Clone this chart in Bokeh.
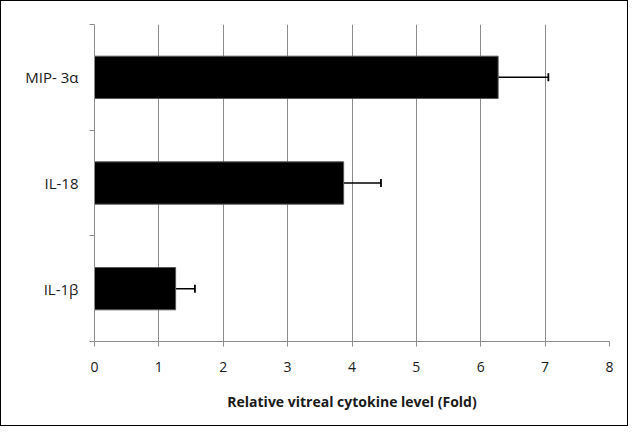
from bokeh.plotting import figure
from bokeh.models import Range1d, FixedTicker, Whisker, TeeHead, ColumnDataSource
from bokeh.embed import file_html
from bokeh.resources import INLINE

categories = ["IL-1β", "IL-18", "MIP- 3α"]
values = [1.26, 3.87, 6.27]
errors = [0.30, 0.58, 0.78]
x_ticks = [0, 1, 2, 3, 4, 5, 6, 7, 8]

pos = [i + 0.5 for i in range(len(categories))]
upper = [v + e for v, e in zip(values, errors)]
src = ColumnDataSource(dict(y=pos, v=values, up=upper))

FONT = "Open Sans"
GRAY = "#8c8c8c"
TXT = "#1a1a1a"

p = figure(frame_width=515, frame_height=317,
           min_border_left=93, min_border_right=18, min_border_top=23, min_border_bottom=84,
           x_range=Range1d(0, 8), y_range=Range1d(0, len(categories)),
           output_backend="svg", toolbar_location=None, tools="")
p.styles = {"border": "1.5px solid #000"}
p.outline_line_color = None
p.background_fill_color = "white"
p.border_fill_color = "white"

p.hbar(y="y", right="v", left=0, height=0.4, source=src,
       fill_color="black", line_color="#555555", line_width=1)

w = Whisker(base="y", lower="v", upper="up", dimension="width", source=src,
            line_color="black", line_width=1.5,
            upper_head=TeeHead(size=8, line_color="black", line_width=1.8),
            lower_head=None)
p.add_layout(w)

# x axis
p.xaxis.ticker = FixedTicker(ticks=x_ticks)
p.xaxis.axis_line_color = GRAY
p.xaxis.major_tick_line_color = GRAY
p.xaxis.major_tick_out = 5
p.xaxis.major_tick_in = 0
p.xaxis.minor_tick_line_color = None
p.xaxis.major_label_text_font = FONT
p.xaxis.major_label_text_font_size = "14px"
p.xaxis.major_label_text_color = TXT
p.xaxis.major_label_standoff = 15
p.xaxis.axis_label = "Relative vitreal cytokine level (Fold)"
p.xaxis.axis_label_text_font = FONT
p.xaxis.axis_label_text_font_style = "bold"
p.xaxis.axis_label_text_font_size = "14px"
p.xaxis.axis_label_text_color = TXT
p.xaxis.axis_label_standoff = 17

# y axis: labels at category centres, tick marks at boundaries
p.yaxis.ticker = FixedTicker(ticks=pos, minor_ticks=list(range(len(categories) + 1)))
p.yaxis.major_label_overrides = {pv: c for pv, c in zip(pos, categories)}
p.yaxis.axis_line_color = GRAY
p.yaxis.major_tick_line_color = None
p.yaxis.minor_tick_line_color = GRAY
p.yaxis.minor_tick_out = 5
p.yaxis.minor_tick_in = 0
p.yaxis.major_label_text_font = FONT
p.yaxis.major_label_text_font_size = "15px"
p.yaxis.major_label_text_color = TXT
p.yaxis.major_label_standoff = 10

p.xgrid.ticker = FixedTicker(ticks=x_ticks)
p.xgrid.grid_line_color = GRAY
p.xgrid.grid_line_width = 1
p.ygrid.grid_line_color = None

open("out.html", "w").write(file_html(p, INLINE))
